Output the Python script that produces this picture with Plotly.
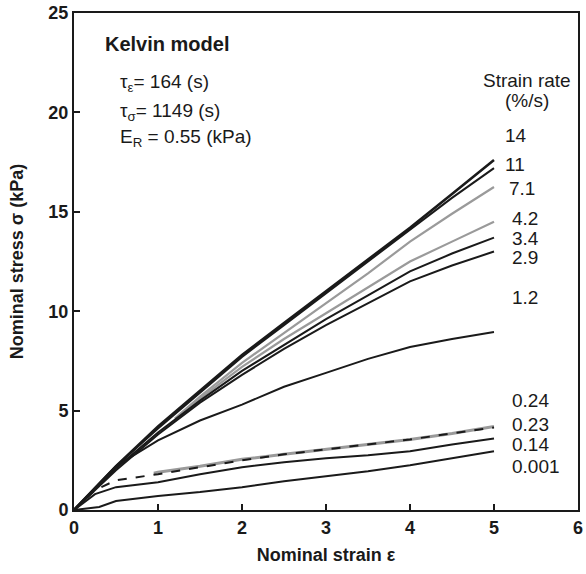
import plotly.graph_objects as go

FONT = "Liberation Sans, Arial, sans-serif"

# ---- data ----
strain_14 = [0, 0.5, 1, 1.5, 2, 2.5, 3, 3.5, 4, 4.5, 5]
stress_14 = [0, 2.2, 4.2, 6.0, 7.8, 9.4, 11.0, 12.6, 14.2, 15.9, 17.6]
strain_11 = [0, 0.5, 1, 1.5, 2, 2.5, 3, 3.5, 4, 4.5, 5]
stress_11 = [0, 2.2, 4.1, 5.9, 7.7, 9.3, 10.9, 12.5, 14.1, 15.7, 17.2]
strain_71 = [1.2, 1.5, 2, 2.5, 3, 3.5, 4, 4.5, 5]
stress_71 = [4.6, 5.7, 7.4, 8.9, 10.4, 11.9, 13.5, 14.9, 16.25]
strain_42 = [1.2, 1.5, 2, 2.5, 3, 3.5, 4, 4.5, 5]
stress_42 = [4.5, 5.6, 7.2, 8.6, 9.9, 11.2, 12.5, 13.5, 14.5]
strain_34 = [0, 0.5, 1, 1.5, 2, 2.5, 3, 3.5, 4, 4.5, 5]
stress_34 = [0, 2.1, 3.9, 5.5, 7.0, 8.3, 9.6, 10.8, 12.0, 12.9, 13.7]
strain_29 = [0, 0.5, 1, 1.5, 2, 2.5, 3, 3.5, 4, 4.5, 5]
stress_29 = [0, 2.0, 3.8, 5.4, 6.8, 8.1, 9.3, 10.4, 11.5, 12.3, 13.0]
strain_12 = [0, 0.5, 1, 1.5, 2, 2.5, 3, 3.5, 4, 4.5, 5]
stress_12 = [0, 2.2, 3.5, 4.5, 5.3, 6.2, 6.9, 7.6, 8.2, 8.6, 8.95]
strain_024 = [0.95, 1, 1.5, 2, 2.5, 3, 3.5, 4, 4.5, 5]
stress_024 = [1.85, 1.9, 2.2, 2.55, 2.8, 3.05, 3.3, 3.55, 3.85, 4.2]
strain_023 = [0, 0.25, 0.5, 1, 1.5, 2, 2.5, 3, 3.5, 4, 4.5, 5]
stress_023 = [0, 1.0, 1.5, 1.8, 2.15, 2.5, 2.8, 3.05, 3.3, 3.55, 3.85, 4.15]
strain_014 = [0, 0.25, 0.5, 1, 1.5, 2, 2.5, 3, 3.5, 4, 4.5, 5]
stress_014 = [0, 0.8, 1.15, 1.4, 1.8, 2.15, 2.4, 2.6, 2.75, 2.95, 3.3, 3.6]
strain_0001 = [0, 0.3, 0.5, 1, 1.5, 2, 2.5, 3, 3.5, 4, 4.5, 5]
stress_0001 = [0, 0.15, 0.45, 0.7, 0.9, 1.15, 1.45, 1.7, 1.95, 2.25, 2.6, 2.95]

rate_labels = ["14", "11", "7.1", "4.2", "3.4", "2.9", "1.2", "0.24", "0.23", "0.14", "0.001"]
label_y = [18.86, 17.4, 16.15, 14.65, 13.65, 12.7, 10.7, 5.5, 4.3, 3.3, 2.2]
label_x = [5.11, 5.11, 5.16, 5.19, 5.19, 5.19, 5.19, 5.19, 5.19, 5.19, 5.19]

x_ticks = [0, 1, 2, 3, 4, 5, 6]
y_ticks = [0, 5, 10, 15, 20, 25]

BLACK = "#1a1a1a"
GRAY = "#9a9a9a"

series = [
    (strain_024, stress_024, GRAY, 3.0, "solid"),
    (strain_71, stress_71, GRAY, 2.2, "solid"),
    (strain_42, stress_42, GRAY, 2.2, "solid"),
    (strain_14, stress_14, BLACK, 2.6, "solid"),
    (strain_11, stress_11, BLACK, 2.0, "solid"),
    (strain_34, stress_34, BLACK, 2.0, "solid"),
    (strain_29, stress_29, BLACK, 2.0, "solid"),
    (strain_12, stress_12, BLACK, 2.0, "solid"),
    (strain_023, stress_023, BLACK, 2.0, "dash"),
    (strain_014, stress_014, BLACK, 2.0, "solid"),
    (strain_0001, stress_0001, BLACK, 2.0, "solid"),
]

fig = go.Figure()
for xs, ys, col, w, dash in series:
    fig.add_trace(go.Scatter(x=xs, y=ys, mode="lines",
                             line=dict(color=col, width=w, dash=dash),
                             hoverinfo="skip"))

annots = []
for lab, lx, ly in zip(rate_labels, label_x, label_y):
    annots.append(dict(x=lx, y=ly, xref="x", yref="y", text=lab, showarrow=False,
                       xanchor="left", yanchor="middle",
                       font=dict(family=FONT, size=19, color=BLACK)))

extra = [
    dict(x=5.39, y=21.6, text="Strain rate", xanchor="center"),
    dict(x=5.39, y=20.6, text="(%/s)", xanchor="center"),
    dict(x=0.52, y=21.5, text="τ<sub>ε</sub>= 164 (s)", xanchor="left"),
    dict(x=0.52, y=20.0, text="τ<sub>σ</sub>= 1149 (s)", xanchor="left"),
    dict(x=0.52, y=18.7, text="E<sub>R</sub> = 0.55 (kPa)", xanchor="left"),
]
for a in extra:
    a.update(xref="x", yref="y", showarrow=False, yanchor="middle",
             font=dict(family=FONT, size=19, color=BLACK))
annots += extra
annots.append(dict(x=0.35, y=23.45, xref="x", yref="y", text="<b>Kelvin model</b>",
                   showarrow=False, xanchor="left", yanchor="middle",
                   font=dict(family=FONT, size=20, color=BLACK)))

axis_common = dict(showline=True, linewidth=2, linecolor=BLACK, mirror=True,
                   ticks="inside", ticklen=6, tickwidth=2, tickcolor=BLACK,
                   showgrid=False, zeroline=False,
                   tickfont=dict(family=FONT, size=18, color=BLACK, weight="bold"))

fig.update_layout(
    width=586, height=574,
    margin=dict(l=74, r=8, t=13, b=64),
    plot_bgcolor="white", paper_bgcolor="white",
    showlegend=False,
    annotations=annots,
    xaxis=dict(range=[0, 6], tickvals=x_ticks, ticktext=[str(v) for v in x_ticks],
               title=dict(text="Nominal strain ε", standoff=12,
                          font=dict(family=FONT, size=18, color=BLACK, weight="bold")),
               automargin=False, **axis_common),
    yaxis=dict(range=[0, 25], tickvals=y_ticks, ticktext=[str(v) for v in y_ticks],
               title=dict(text="Nominal stress σ (kPa)", standoff=20,
                          font=dict(family=FONT, size=18, color=BLACK, weight="bold")),
               automargin=False, **axis_common),
)

# remove the browser's default 8px body margin so the figure fills the window exactly
fig.write_html("out.html", config={"displayModeBar": False},
               post_script="document.body.style.margin='0px';")
